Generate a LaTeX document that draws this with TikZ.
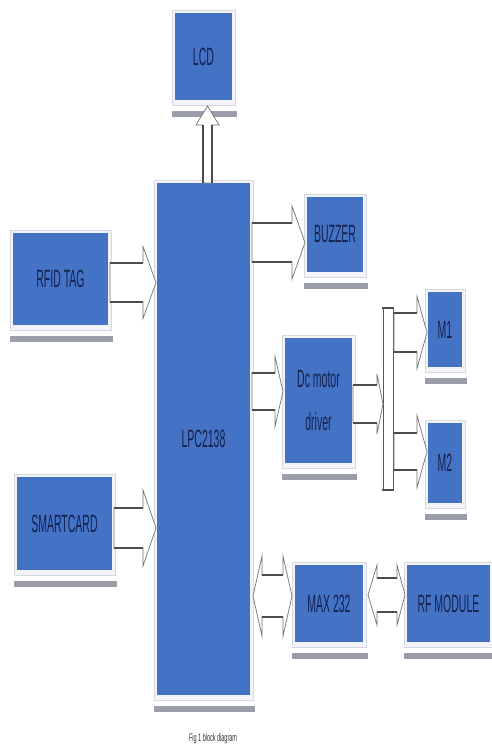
\documentclass[tikz,border=0pt]{standalone}
\usepackage{fontspec}
\setmainfont{Liberation Sans}
\usetikzlibrary{fit}
\definecolor{boxblue}{HTML}{4472C4}
\definecolor{txtnavy}{HTML}{14224F}
\definecolor{frmfill}{HTML}{F3F4F9}
\definecolor{frmline}{HTML}{D5D8E4}
\definecolor{barcol}{HTML}{9C9DAA}
\newcommand\lbl[1]{\scalebox{0.42}[1]{\fontsize{25}{30}\selectfont #1}}
\tikzset{
  blk/.style={fill=boxblue, draw=none, inner sep=0pt, outer sep=0pt, text=txtnavy, align=center},
  frm/.style={fill=frmfill, draw=frmline, line width=0.5pt},
  barst/.style={fill=barcol, draw=none},
  barrow/.style={fill=white, draw=black!55, line width=0.7pt, line join=miter},
  shaft/.style={draw=black!70, line width=1.8pt},
}
% name, x1, y1, x2, y2, text
\newcommand\blockbox[6]{%
  \filldraw[frm] (#2-3,#3-3) rectangle (#4+3,#5+5);
  \fill[barst] (#2-3,#5+11) rectangle (#4+5,#5+17);
  \node[blk, fit={(#2,#3)(#4,#5)}] (#1) {};
  \node[text=txtnavy, inner sep=0pt, align=center] at (#1.center) {#6};
}
% right arrow: x1, x2(tip), xh(head base), yc, s, h
\newcommand\arrR[6]{%
  \draw[barrow] (#1,#4-#5) -- (#3,#4-#5) -- (#3,#4-#6) -- (#2,#4) -- (#3,#4+#6) -- (#3,#4+#5) -- (#1,#4+#5) -- cycle;
  \draw[shaft] (#1,#4-#5) -- (#3,#4-#5) (#1,#4+#5) -- (#3,#4+#5);
}
% double arrow: x1(left tip), xa, xb, x2(right tip), yc, s, h
\newcommand\arrD[7]{%
  \draw[barrow] (#1,#5) -- (#2,#5-#7) -- (#2,#5-#6) -- (#3,#5-#6) -- (#3,#5-#7) -- (#4,#5) -- (#3,#5+#7) -- (#3,#5+#6) -- (#2,#5+#6) -- (#2,#5+#7) -- cycle;
  \draw[shaft] (#2,#5-#6) -- (#3,#5-#6) (#2,#5+#6) -- (#3,#5+#6);
}
\begin{document}
\begin{tikzpicture}[x=1pt, y=-1pt]
\useasboundingbox (0,0) rectangle (492,747);
\fill[white] (0,0) rectangle (492,747);

% boxes
\blockbox{lcd}{175}{13}{232}{100}{\lbl{LCD}}
\blockbox{lpc}{157}{183}{250}{695}{\lbl{LPC2138}}
\blockbox{rfid}{13}{233}{108}{325}{\lbl{RFID TAG}}
\blockbox{smart}{17}{477}{112}{570}{\lbl{SMARTCARD}}
\blockbox{buzz}{307}{197}{363}{272}{\lbl{BUZZER}}
\blockbox{dc}{285}{338}{352}{463}{\lbl{Dc motor}\\[24pt]\lbl{driver}}
\blockbox{m1}{428}{292}{462}{367}{\lbl{M1}}
\blockbox{m2}{428}{423}{462}{503}{\lbl{M2}}
\blockbox{max}{295}{565}{363}{642}{\lbl{MAX 232}}
\blockbox{rf}{407}{565}{490}{642}{\lbl{RF MODULE}}

% bus bar
\filldraw[fill=white, draw=black!65, line width=0.8pt] (383,308) rectangle (393,490);
\draw[black!70, line width=2pt] (382,308) -- (394,308) (382,490) -- (394,490);

% LPC -> LCD (up)
\draw[barrow] (203,183) -- (203,125) -- (196,125) -- (207.5,106) -- (219,125) -- (212,125) -- (212,183) -- cycle;
\draw[black!70, line width=1.4pt] (203,183) -- (203,125) (212,183) -- (212,125);

% inputs
\arrR{110}{156}{143}{282.5}{19.5}{36}
\arrR{114}{156}{143}{528}{20}{38}
% outputs
\arrR{252}{305}{292}{242.5}{19.5}{36.5}
\arrR{252}{283}{275}{391.5}{18.5}{35}
\arrR{353}{383}{377}{404}{19}{30}
\arrR{394}{427}{417}{332.5}{19.5}{36}
\arrR{394}{427}{417}{451.5}{18.5}{36}
% bidirectional
\arrD{253}{262}{283}{292}{596}{21}{40}
\arrD{368}{377}{397}{405}{595}{17}{30}

% caption
\node[anchor=north, inner sep=0pt, text=black!80] (cap) at (213,733) {\scalebox{0.5}[1]{\fontsize{11}{13}\selectfont Fig 1 block diagram}};
\end{tikzpicture}
\end{document}
